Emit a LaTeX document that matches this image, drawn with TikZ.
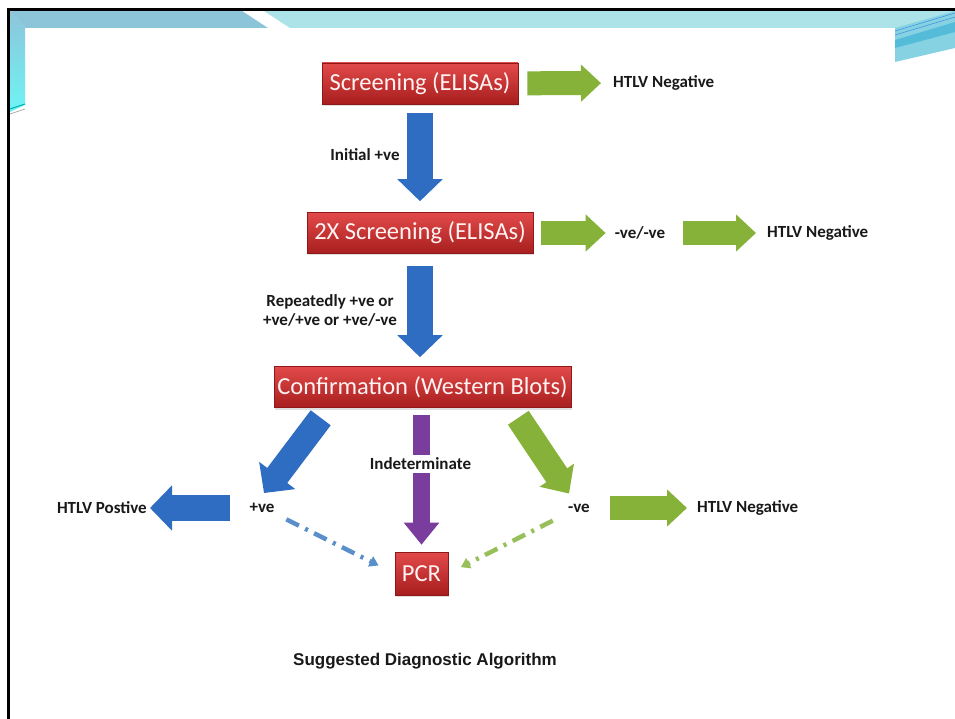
\documentclass[tikz,border=0pt]{standalone}
\usepackage{fontspec}
\setmainfont{Carlito}
\newfontfamily\capfont{Liberation Sans}
\usetikzlibrary{arrows.meta,calc,shadows}
\definecolor{boxtop}{HTML}{E24A4A}
\definecolor{boxbot}{HTML}{A81E1E}
\definecolor{arblue}{HTML}{2F6DC2}
\definecolor{dblue}{HTML}{5A8FCB}
\definecolor{argreen}{HTML}{86B23A}
\definecolor{dgreen}{HTML}{98C05A}
\definecolor{arpurple}{HTML}{7A3D9E}
\definecolor{bandA}{HTML}{8CC5DA}
\definecolor{bandB}{HTML}{ABE3E9}
\definecolor{bandC}{HTML}{6FF4F5}
\definecolor{bandD}{HTML}{54BCD8}
\definecolor{bandE}{HTML}{86D2E3}
\begin{document}
\begin{tikzpicture}[x=1pt,y=-1pt,
  redbox/.style={rectangle, top color=boxtop, bottom color=boxbot, draw=boxbot!85!black,
    line width=0.6pt, text=white!95!red, font=\fontsize{24.5}{27}\selectfont,
    minimum height=41pt, inner xsep=3pt,
    drop shadow={opacity=0.25, shadow xshift=1pt, shadow yshift=-2pt}},
  lbl/.style={font=\bfseries\fontsize{17}{19}\selectfont, text=black!90, inner sep=1pt},
  greenfat/.style={draw=argreen, line width=24pt, -{Triangle[length=20pt,width=36pt]}},
  bluefat/.style={draw=arblue, line width=26pt, -{Triangle[length=22pt,width=44pt]}},
  purplefat/.style={draw=arpurple, line width=17pt, -{Triangle[length=22pt,width=34pt]}},
  bluedash/.style={draw=dblue, line width=4.5pt, dash pattern=on 14pt off 7pt on 3pt off 7pt,
    -{Triangle[length=9pt,width=11pt]}},
  greendash/.style={draw=dgreen, line width=4.5pt, dash pattern=on 14pt off 7pt on 3pt off 7pt,
    -{Triangle[length=9pt,width=11pt]}}
]
\useasboundingbox (0,0) rectangle (955,719);
\fill[white] (0,0) rectangle (955,719);

% slide decoration
\fill[bandA] (10,11) -- (242,11) -- (268,28) -- (25,28) -- cycle;
\shade[top color=bandA, bottom color=bandC] (10,11) -- (25,28) -- (25,105) -- (10,112) -- cycle;
\fill[bandB] (264,11) -- (955,11) -- (955,28) -- (290,28) -- cycle;
\draw[teal!60!cyan, line width=1pt] (10,109) -- (25,104);
\draw[gray!70, line width=0.7pt] (10,114) -- (25,109);
\fill[bandE] (895,28) -- (955,11) -- (955,48) -- (895,62) -- cycle;
\fill[bandD] (895,40) -- (955,22) -- (955,32) -- (895,48) -- cycle;
\draw[bandD!80!blue, line width=0.6pt] (895,31) -- (955,13);
\draw[bandD!80!blue, line width=0.6pt] (895,35) -- (955,17);
\draw[line width=3pt] (8.5,719) -- (8.5,9.5) -- (955,9.5);

% boxes
\node[redbox, minimum width=196pt] (s1) at (420,83.5) {Screening (ELISAs)};
\node[redbox, minimum width=226pt] (s2) at (420,233) {2X Screening (ELISAs)};
\node[redbox, minimum width=297pt] (conf) at (422.5,387) {Confirmation (Western Blots)};
\node[redbox, minimum width=53pt, minimum height=43pt] (pcr) at (421.5,573.5) {PCR};

% labels
\node[lbl, anchor=west] (neg1) at (612,83) {HTLV Negative};
\node[lbl] (init) at (365,155) {Initial +ve};
\node[lbl] (vv) at (640,233) {-ve/-ve};
\node[lbl, anchor=west] (neg2) at (766,233) {HTLV Negative};
\node[lbl, align=center] (rep) at (330,310) {Repeatedly +ve or\\+ve/+ve or +ve/-ve};
\node[lbl] (plus) at (262,508) {+ve};
\node[lbl, anchor=east] (pos) at (148,508) {HTLV Postive};
\node[lbl] (minus) at (579,508) {-ve};
\node[lbl, anchor=west] (neg3) at (696,508) {HTLV Negative};
\node[font=\capfont\bfseries\fontsize{17}{19}\selectfont, text=black!90] (cap) at (425,661) {Suggested Diagnostic Algorithm};

% connectors
\draw[greenfat, shorten <=9pt, shorten >=11pt] (s1) -- (neg1);
\draw[bluefat, shorten <=9pt, shorten >=11pt] (s1.south) -- (s2.north);
\draw[greenfat, shorten <=8pt, shorten >=8pt] (s2) -- (vv);
\draw[greenfat, shorten <=17pt, shorten >=10pt] (vv) -- (neg2);
\draw[bluefat, shorten <=12pt, shorten >=9pt] (s2.south) -- (s2.south |- conf.north);
\draw[purplefat, shorten <=7pt, shorten >=7pt] (conf.south -| pcr.north) -- (pcr.north);
\node[lbl, fill=white, inner sep=3pt] (ind) at (420.5,464) {Indeterminate};
\draw[bluefat, line width=25pt, shorten >=0pt]
  ([xshift=47pt,yshift=-10pt]conf.south west) -- ([xshift=2pt,yshift=9pt]plus.north);
\draw[greenfat, line width=25pt, -{Triangle[length=22pt,width=40pt]}]
  ([xshift=-53pt,yshift=-10pt]conf.south east) -- ([xshift=-10pt,yshift=9pt]minus.north);
\draw[bluefat, shorten <=18pt, shorten >=2pt] (plus) -- (pos);
\draw[greenfat, shorten <=19pt, shorten >=9pt] (minus) -- (neg3);
\draw[bluedash, shorten <=12pt, shorten >=18pt] (plus.south east) -- (pcr.west);
\draw[greendash, shorten <=16pt, shorten >=14pt] (minus.south west) -- (pcr.east);
\end{tikzpicture}
\end{document}
